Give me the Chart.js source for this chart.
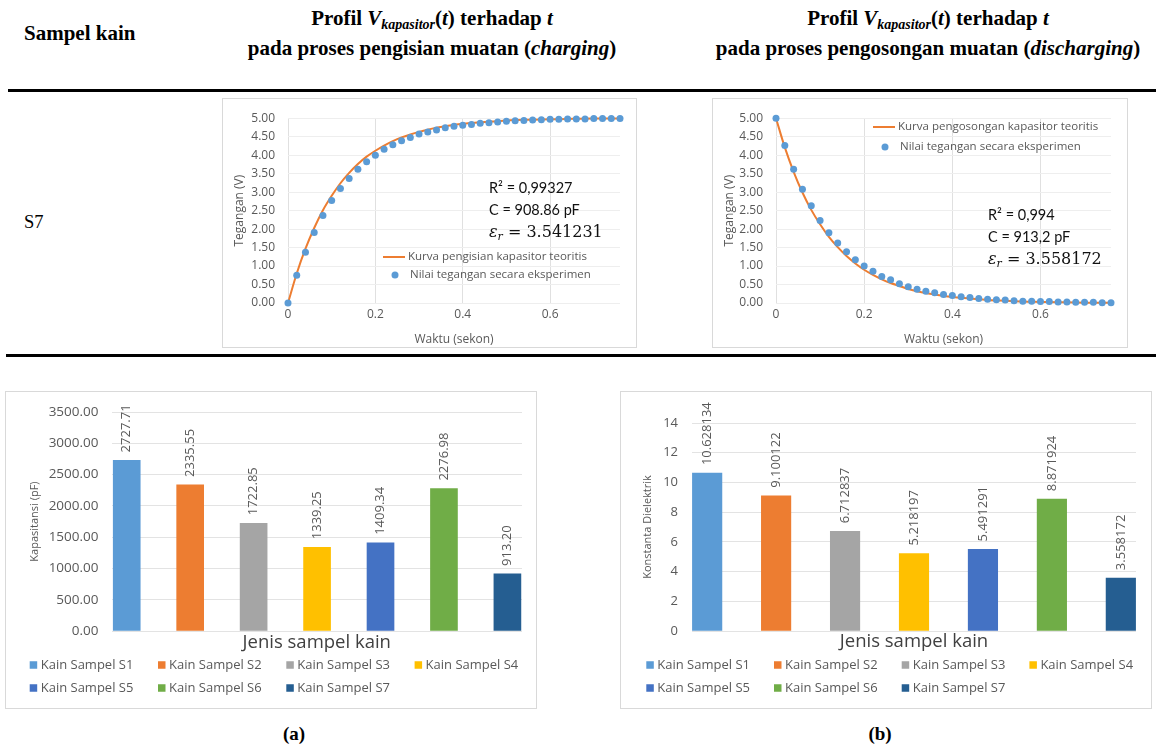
<!DOCTYPE html>
<html><head><meta charset="utf-8">
<script src="https://cdn.jsdelivr.net/npm/chart.js@4.4.1/dist/chart.umd.min.js"></script>
<style>
html,body{margin:0;padding:0;background:#fff;}
body{width:1156px;height:748px;position:relative;overflow:hidden;font-family:'Liberation Serif','Times New Roman',serif;color:#000;}
.t{position:absolute;white-space:nowrap;}
.hdr{font-weight:bold;font-size:21px;line-height:21px;}
.ctr{transform:translateX(-50%);}
.hdr sub{font-size:14px;line-height:0;vertical-align:-4px;}
.rule{position:absolute;background:#000;}
.frame{position:absolute;border:1px solid #d9d9d9;box-sizing:border-box;}
.cv{position:absolute;}
.ann{position:absolute;font-family:Lato,sans-serif;font-size:14.5px;line-height:14px;color:#111;white-space:nowrap;}
.eps{position:absolute;font-family:'DejaVu Serif',serif;font-size:16px;line-height:16px;color:#111;white-space:nowrap;}
.eps sub{font-size:11px;line-height:0;vertical-align:-3px;}
</style></head>
<body>
<script>
// ================= DATA =================
const tExp = [0,0.02,0.04,0.06,0.08,0.10,0.12,0.14,0.16,0.18,0.20,0.22,0.24,0.26,0.28,0.30,0.32,0.34,0.36,0.38,0.40,0.42,0.44,0.46,0.48,0.50,0.52,0.54,0.56,0.58,0.60,0.62,0.64,0.66,0.68,0.70,0.72,0.74,0.76];
const vChargeExp = [0,0.75,1.37,1.91,2.37,2.77,3.10,3.37,3.62,3.82,4.00,4.16,4.28,4.39,4.48,4.57,4.63,4.68,4.74,4.78,4.81,4.83,4.86,4.88,4.90,4.92,4.93,4.94,4.95,4.96,4.97,4.97,4.98,4.98,4.98,4.99,4.99,4.99,4.99];
const vDischargeExp = [5.00,4.26,3.62,3.08,2.63,2.23,1.90,1.62,1.39,1.17,1.00,0.86,0.72,0.63,0.52,0.44,0.37,0.32,0.28,0.23,0.20,0.17,0.15,0.12,0.10,0.09,0.08,0.06,0.05,0.05,0.04,0.04,0.03,0.03,0.02,0.02,0.02,0.01,0.01];
const tTheory = [0,0.02,0.04,0.06,0.08,0.10,0.12,0.14,0.16,0.18,0.20,0.22,0.24,0.26,0.28,0.30,0.32,0.34,0.36,0.38,0.40,0.44,0.48,0.52,0.56,0.60,0.64,0.70,0.76];
const vChargeTheory = [0,0.80,1.47,2.03,2.51,2.90,3.24,3.52,3.76,3.96,4.12,4.26,4.38,4.48,4.56,4.63,4.69,4.74,4.78,4.82,4.85,4.89,4.92,4.95,4.96,4.97,4.98,4.99,4.99];
const vDischargeTheory = [5.00,4.21,3.55,2.99,2.52,2.13,1.79,1.51,1.27,1.07,0.90,0.76,0.64,0.54,0.46,0.38,0.32,0.27,0.23,0.19,0.16,0.12,0.08,0.06,0.04,0.03,0.02,0.01,0.01];
const chargeLabels = ['Kurva pengisian kapasitor teoritis','Nilai tegangan secara eksperimen'];
const dischargeLabels = ['Kurva pengosongan kapasitor teoritis','Nilai tegangan secara eksperimen'];
const timeTicks = [0,0.2,0.4,0.6];

const sampleNames = ['Kain Sampel S1','Kain Sampel S2','Kain Sampel S3','Kain Sampel S4','Kain Sampel S5','Kain Sampel S6','Kain Sampel S7'];
const capacitance = [2727.71,2335.55,1722.85,1339.25,1409.34,2276.98,913.20];
const dielectric = [10.628134,9.100122,6.712837,5.218197,5.491291,8.871924,3.558172];
const sampleColors = ['#5b9bd5','#ed7d31','#a5a5a5','#ffc000','#4472c4','#70ad47','#255e91'];
</script>

<!-- table header -->
<div class="t hdr" style="left:24px;top:23px;">Sampel kain</div>
<div class="t hdr ctr" style="left:432px;top:8px;">Profil <i>V</i><sub><i>kapasitor</i></sub>(<i>t</i>) terhadap <i>t</i></div>
<div class="t hdr ctr" style="left:432px;top:38px;">pada proses pengisian muatan (<i>charging</i>)</div>
<div class="t hdr ctr" style="left:928px;top:8px;">Profil <i>V</i><sub><i>kapasitor</i></sub>(<i>t</i>) terhadap <i>t</i></div>
<div class="t hdr ctr" style="left:928px;top:38px;">pada proses pengosongan muatan (<i>discharging</i>)</div>
<div class="rule" style="left:8px;top:89px;width:1148px;height:3px;"></div>
<div class="t" style="left:24px;top:213px;font-size:18.5px;line-height:18.5px;">S7</div>
<div class="rule" style="left:6px;top:354px;width:1150px;height:2.5px;"></div>

<!-- frames -->
<div class="frame" style="left:222px;top:98px;width:415px;height:250px;"></div>
<div class="frame" style="left:712px;top:98px;width:416px;height:250px;"></div>
<div class="frame" style="left:5px;top:391px;width:532px;height:318px;"></div>
<div class="frame" style="left:620px;top:391px;width:532px;height:318px;"></div>

<canvas id="c1" class="cv" width="415" height="250" style="left:222px;top:98px;"></canvas>
<canvas id="c2" class="cv" width="416" height="250" style="left:712px;top:98px;"></canvas>
<canvas id="c3" class="cv" width="532" height="318" style="left:5px;top:391px;"></canvas>
<canvas id="c4" class="cv" width="532" height="318" style="left:620px;top:391px;"></canvas>

<!-- annotations -->
<div class="ann" style="left:489px;top:181px;">R² = 0,99327</div>
<div class="ann" style="left:489px;top:203px;">C = 908.86 pF</div>
<div class="eps" style="left:489px;top:224px;"><i>ε</i><sub><i>r</i></sub> = 3.541231</div>
<div class="ann" style="left:988px;top:208px;">R² = 0,994</div>
<div class="ann" style="left:988px;top:230px;">C = 913,2 pF</div>
<div class="eps" style="left:988px;top:251px;"><i>ε</i><sub><i>r</i></sub> = 3.558172</div>

<div class="t ctr" style="left:294px;top:724px;font-size:19px;line-height:19px;font-weight:bold;">(a)</div>
<div class="t ctr" style="left:880px;top:724px;font-size:19px;line-height:19px;font-weight:bold;">(b)</div>

<script>
Chart.defaults.font.family = "'Open Sans', 'Noto Sans', sans-serif";
Chart.defaults.color = '#595959';

const pts = (xs, ys) => xs.map((x, i) => ({x: x, y: ys[i]}));

// legend drawn inside the plot for the line charts
const lineLegend = {
  id: 'lineLegend',
  afterDraw(chart, args, opts) {
    const ctx = chart.ctx;
    ctx.save();
    ctx.font = opts.font;
    ctx.textBaseline = 'middle';
    ctx.textAlign = 'left';
    chart.data.datasets.forEach((ds, i) => {
      const y = opts.ys[i];
      const x = opts.x;
      if (ds.type === 'line') {
        ctx.strokeStyle = ds.borderColor;
        ctx.lineWidth = ds.borderWidth;
        ctx.beginPath(); ctx.moveTo(x, y); ctx.lineTo(x + 22, y); ctx.stroke();
        ctx.fillStyle = opts.color;
        ctx.fillText(ds.label, x + 25, y);
      } else {
        ctx.fillStyle = ds.backgroundColor;
        ctx.beginPath(); ctx.arc(x + 12, y, ds.pointRadius, 0, Math.PI * 2); ctx.fill();
        ctx.fillStyle = opts.color;
        ctx.fillText(ds.label, x + 27, y);
      }
    });
    ctx.restore();
  }
};

// legend grid under the bar charts
const barLegend = {
  id: 'barLegend',
  afterDraw(chart, args, opts) {
    const ctx = chart.ctx;
    ctx.save();
    ctx.font = opts.font;
    ctx.textBaseline = 'middle';
    ctx.textAlign = 'left';
    chart.data.datasets.forEach((ds, i) => {
      const col = i % opts.cols, row = Math.floor(i / opts.cols);
      const bx = opts.x0 + col * opts.dx, by = opts.y0 + row * opts.dy;
      ctx.fillStyle = ds.backgroundColor;
      ctx.fillRect(bx, by - opts.box / 2, opts.box, opts.box);
      ctx.fillStyle = opts.color;
      ctx.fillText(ds.label, bx + opts.box + opts.gap, by + 0.5);
    });
    ctx.restore();
  }
};

// rotated value labels above bars
const barValueLabels = {
  id: 'barValueLabels',
  afterDatasetsDraw(chart, args, opts) {
    const ctx = chart.ctx;
    ctx.save();
    ctx.font = opts.font;
    ctx.fillStyle = opts.color;
    chart.data.datasets.forEach((ds, i) => {
      const meta = chart.getDatasetMeta(i);
      meta.data.forEach((el, j) => {
        const v = ds.data[j].y;
        ctx.save();
        ctx.translate(el.x, el.y - opts.gap);
        ctx.rotate(-Math.PI / 2);
        ctx.textAlign = 'left';
        ctx.textBaseline = 'middle';
        ctx.fillText(opts.decimals != null ? v.toFixed(opts.decimals) : String(v), 0, 0);
        ctx.restore();
      });
    });
    ctx.restore();
  }
};

function lineChart(id, tTh, vTh, tEx, vEx, labels, c) {
  return new Chart(document.getElementById(id), {
    type: 'scatter',
    data: {
      datasets: [
        {type: 'line', label: labels[0], data: pts(tTh, vTh), borderColor: '#ed7d31', backgroundColor: '#ed7d31',
         borderWidth: 2, pointRadius: 0, fill: false, cubicInterpolationMode: 'monotone', order: 1, clip: false},
        {type: 'scatter', label: labels[1], data: pts(tEx, vEx), backgroundColor: '#5b9bd5', borderColor: '#5b9bd5',
         pointRadius: 3.5, borderWidth: 0, order: 0, clip: false}
      ]
    },
    options: {
      responsive: false, animation: false, devicePixelRatio: 1,
      layout: {padding: {left: c.padL, right: c.padR, top: c.padT, bottom: 0}},
      plugins: {legend: {display: false}, tooltip: {enabled: false},
        lineLegend: {x: c.legX, ys: c.legY, font: "11.5px 'Open Sans'", color: '#595959'}},
      scales: {
        x: {type: 'linear', min: 0, max: 0.76,
            afterBuildTicks: (ax) => { ax.ticks = timeTicks.map(v => ({value: v})); },
            ticks: {font: {size: 12}, color: '#595959', padding: 4, callback: (v) => v === 0 ? '0' : v.toFixed(1)},
            grid: {color: '#e0e0e0', drawTicks: false}, border: {display: false},
            title: {display: true, text: 'Waktu (sekon)', font: {size: 12}, color: '#595959', padding: {top: 0, bottom: 1}},
            afterFit: (s) => { s.height = 45; }},
        y: {min: 0, max: 5,
            ticks: {stepSize: 0.5, font: {size: 12}, color: '#595959', padding: 13, callback: (v) => v.toFixed(2)},
            grid: {color: '#eeeeee', drawTicks: false}, border: {display: false},
            title: {display: true, text: 'Tegangan (V)', font: {size: 12}, color: '#595959', padding: {top: 6, bottom: 0}},
            afterFit: (s) => { s.width = c.yW; }}
      }
    },
    plugins: [lineLegend]
  });
}

function barChart(id, values, c) {
  return new Chart(document.getElementById(id), {
    type: 'bar',
    data: {
      datasets: sampleNames.map((name, i) => ({
        label: name, data: [{x: i, y: values[i]}], backgroundColor: sampleColors[i],
        barThickness: c.barW, grouped: false
      }))
    },
    options: {
      responsive: false, animation: false, devicePixelRatio: 1,
      layout: {padding: {left: c.padL, right: c.padR, top: c.padT, bottom: c.padB}},
      plugins: {legend: {display: false}, tooltip: {enabled: false},
        barValueLabels: {font: "13px 'Open Sans'", color: '#595959', gap: 8, decimals: c.decimals},
        barLegend: {x0: c.legX, y0: 274, dx: c.legDx, dy: 23, cols: 4, box: 7.5, gap: 3.5, font: "13px 'Open Sans'", color: '#595959'}},
      scales: {
        x: {type: 'linear', min: c.xmin, max: c.xmax, offset: false,
            ticks: {display: false}, grid: {display: false, offset: false}, border: {display: false},
            title: {display: true, text: 'Jenis sampel kain', font: {size: 18.5}, color: '#404040', padding: {top: 0, bottom: c.xtPad}},
            afterFit: (s) => { s.height = 30; }},
        y: {min: 0, max: c.ymax,
            ticks: {stepSize: c.step, font: {size: c.tickSize}, color: '#595959', padding: c.tickPad, callback: c.tickFmt},
            grid: {color: '#e3e3e3', drawTicks: false}, border: {display: false},
            title: {display: true, text: c.yTitle, font: {size: 11}, color: '#595959', padding: {top: c.ytPad, bottom: 0}},
            afterFit: (s) => { s.width = c.yW; }}
      }
    },
    plugins: [barValueLabels, barLegend]
  });
}

lineChart('c1', tTheory, vChargeTheory, tExp, vChargeExp, chargeLabels,
  {padL: 4, padR: 17, padT: 14, yW: 62, legX: 161, legY: [159, 177]});
lineChart('c2', tTheory, vDischargeTheory, tExp, vDischargeExp, dischargeLabels,
  {padL: 4, padR: 17, padT: 13, yW: 60, legX: 161, legY: [29, 49]});

barChart('c3', capacitance, {padL: 10, padR: 15, padT: 17, padB: 48, yW: 96.5, ytPad: 13.4, tickPad: 13, tickSize: 13.5,
  xmin: -0.24, xmax: 6.23, barW: 27, xtPad: 7, ymax: 3500, step: 500, tickFmt: (v) => v.toFixed(2),
  yTitle: 'Kapasitansi (pF)', decimals: 2, legX: 24.7, legDx: 128.3});
barChart('c4', dielectric, {padL: 10, padR: 16, padT: 32, padB: 48, yW: 62, ytPad: 11.4, tickPad: 14, tickSize: 13,
  xmin: -0.22, xmax: 6.22, barW: 29.5, xtPad: 8, ymax: 14, step: 2, tickFmt: (v) => String(v),
  yTitle: 'Konstanta Dielektrik', decimals: null, legX: 26.3, legDx: 127.7});
</script>
</body></html>
